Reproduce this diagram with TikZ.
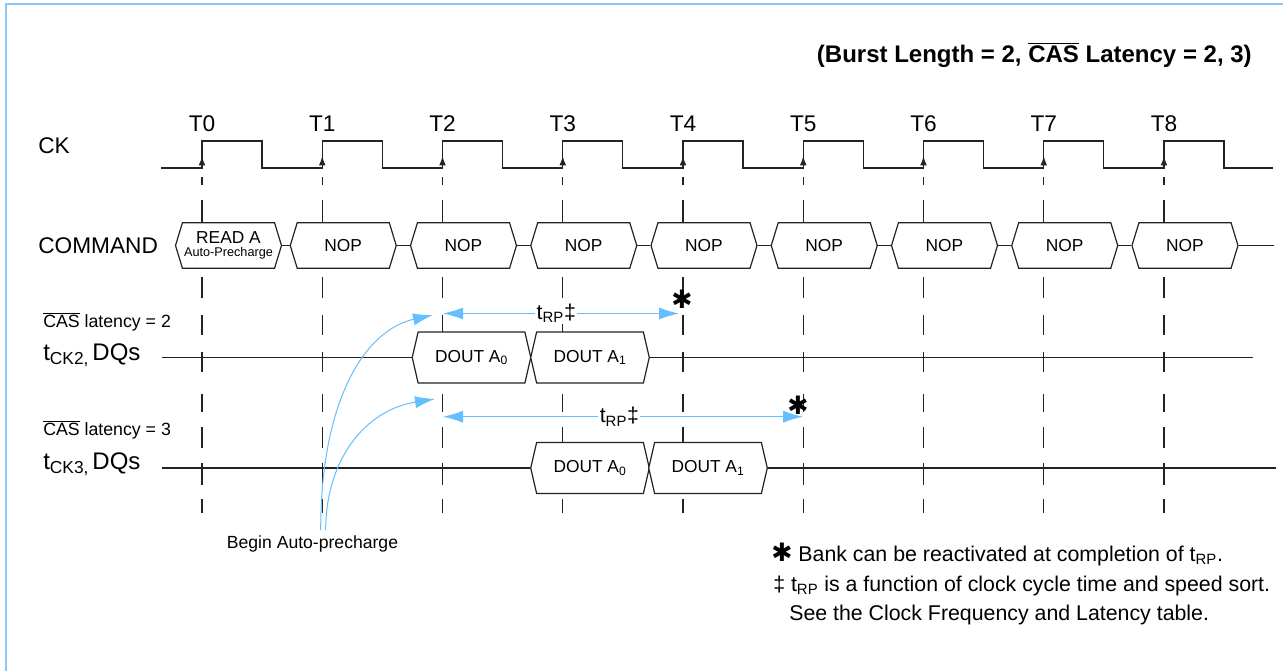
\documentclass[tikz,border=0pt]{standalone}
\usepackage{fontspec}
\setmainfont{Liberation Sans}
\newfontfamily\symfont{DejaVu Sans}
\usetikzlibrary{positioning, arrows.meta, shapes.symbols}
\definecolor{WaveColor}{RGB}{35,35,35}
\definecolor{TimingColor}{RGB}{100,190,255}
\definecolor{FrameColor}{RGB}{135,200,255}
\newcommand{\casbar}{$\overline{\mbox{CAS}}$}
\newcommand{\trp}{t\textsubscript{RP}}
\newcommand{\fsz}[1]{\fontsize{#1}{#1}\selectfont}
\newcommand{\tck}[1]{t\raisebox{-3.5pt}{\fsz{13}CK#1,}\,DQs}
\tikzstyle{wave} = [line width=1pt, WaveColor]
\tikzstyle{edgeline} = [line width=0.9pt, WaveColor]
\tikzstyle{hexbox} = [signal, signal to=east and west, draw=WaveColor, line width=0.9pt, fill=white, inner sep=0pt, font=\fsz{13}]
\tikzstyle{cmdbox} = [hexbox, minimum width=79.5pt, minimum height=34.2pt, signal pointer angle=146]
\tikzstyle{doutbox} = [hexbox, minimum width=88.9pt, minimum height=38.2pt, signal pointer angle=154]
\tikzstyle{timing} = [line width=0.75pt, TimingColor, {Latex[length=15pt,width=9pt]}-{Latex[length=15pt,width=9pt]}]
\tikzstyle{trplabel} = [fill=white, text=black, inner sep=1pt, font=\fsz{16}]
\tikzstyle{precharge} = [line width=0.75pt, TimingColor, -{Latex[length=15pt,width=9pt]}]
\tikzstyle{rowlabel} = [anchor=base west, inner sep=0pt, font=\fsz{17}]
\tikzstyle{note} = [anchor=base west, inner sep=0pt, font=\fsz{16}]

\begin{document}
\begin{tikzpicture}[x=0.75pt, y=-0.75pt]
    \useasboundingbox (0,0) rectangle (1283,671);
    % frame and title
    \draw[FrameColor, line width=1.5pt] (5.5,671) -- (5.5,4) -- (1283,4);
    \node[anchor=base east, inner sep=0pt, font=\fsz{18}\bfseries] (title) at (1252,62) {(Burst Length = 2, \casbar{} Latency = 2, 3)};

    % row labels
    \node[rowlabel] (ck) at (38,153) {CK};
    \node[rowlabel] (command) at (38,253.3) {COMMAND};
    \node[rowlabel, font=\fsz{13.3}] (cas2) at (43,327.3) {\casbar{} latency = 2};
    \node[rowlabel, font=\fsz{18}] (dq2) at (43,360) {\tck{2}};
    \node[rowlabel, font=\fsz{13.3}] (cas3) at (43,435.7) {\casbar{} latency = 3};
    \node[rowlabel, font=\fsz{18}] (dq3) at (43,469) {\tck{3}};

    % clock edges and cycle lines
    \foreach \i in {0,...,8} {
        \pgfmathsetmacro{\ex}{202+120.25*\i}
        \node[anchor=base, inner sep=0pt, font=\fsz{17}] (t\i) at (\ex,131.5) {T\i};
        \foreach \a/\b in {177/185,200/223,277/298,315/335,352/372,394/412,427/448,463/485,499/513}
            \draw[edgeline] (\ex,\a) -- (\ex,\b);
        \draw[edgeline, -{Latex[length=7pt,width=5pt]}] (\ex,168) -- (\ex,156);
    }
    \draw[wave] (161,168) \foreach \i in {0,...,8} { -- ({202+120.25*\i},168) -- ++(0,-27) -- ++(60,0) -- ++(0,27) } -- (1273,168);

    % command bus
    \node[cmdbox, align=center] (cmd0) at (228.5,245.5) {READ A\\[-3pt]{\fsz{9.5}Auto-Precharge}};
    \foreach \i in {1,...,8}
        \node[cmdbox] (cmd\i) at ({223+120.25*\i},245.5) {NOP};
    \foreach \i [count=\j from 1] in {0,...,7}
        \draw[wave] (cmd\i.east) -- (cmd\j.west);
    \coordinate (cmdend) at (1274,245.5);
    \draw[wave] (cmd8.east) -- (cmdend);

    % data out, CAS latency 2 and 3
    \coordinate (dq2start) at (162,357.5);
    \coordinate (dq2end) at (1253,357.5);
    \coordinate (dq3start) at (162,468);
    \coordinate (dq3end) at (1276,468);
    \draw[wave] (dq2start) -- (dq2end);
    \draw[wave] (dq3start) -- (dq3end);
    \node[doutbox] (d2a0) at (471.5,357.5) {DOUT A\textsubscript{0}};
    \node[doutbox] (d2a1) at (590,357.5) {DOUT A\textsubscript{1}};
    \node[doutbox] (d3a0) at (590,468) {DOUT A\textsubscript{0}};
    \node[doutbox] (d3a1) at (708,468) {DOUT A\textsubscript{1}};

    % tRP
    \coordinate (rp2s) at (443,313.5);
    \coordinate (rp2e) at (679,313.5);
    \coordinate (rp3s) at (443,416.7);
    \coordinate (rp3e) at (803,416.7);
    \draw[timing] (rp2s) -- node[pos=0.48, trplabel] (trp2) {\trp‡} (rp2e);
    \draw[timing] (rp3s) -- node[pos=0.49, trplabel] (trp3) {\trp‡} (rp3e);
    \node[font=\symfont\fsz{19}] (bank2) at (682,299) {✱};
    \node[font=\symfont\fsz{19}] (bank3) at (798,405) {✱};

    % begin auto-precharge
    \node[anchor=base, inner sep=0pt, font=\fsz{13.2}] (apre) at (312.5,548.3) {Begin Auto-precharge};
    \coordinate (ap2) at (320.7,530);
    \coordinate (ap3) at (325.7,530);
    \coordinate (ap2tip) at (433,315);
    \coordinate (ap3tip) at (435,399);
    \draw[precharge] (ap2) .. controls (320.7,400) and (365,330) .. (ap2tip);
    \draw[precharge] (ap3) .. controls (325.7,460) and (365,410) .. (ap3tip);

    % notes
    \node[note] (noteA) at (771,561) {{\symfont\fsz{19}✱} Bank can be reactivated at completion of \trp.};
    \node[note] (noteB) at (773,591) {‡ \trp{} is a function of clock cycle time and speed sort.};
    \node[note] (noteC) at (789,620.5) {See the Clock Frequency and Latency table.};
\end{tikzpicture}
\end{document}
